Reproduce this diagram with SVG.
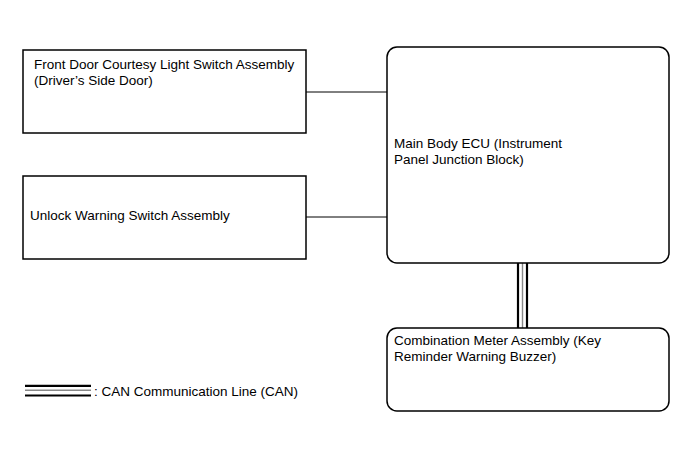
<svg xmlns="http://www.w3.org/2000/svg" width="691" height="467" viewBox="0 0 691 467">
<style>
.box{fill:#fff;stroke:#000;stroke-width:1.5}
.t{font-family:"Liberation Sans",Arial,sans-serif;font-size:13.5px;fill:#000}
.wire{stroke:#000;stroke-width:1;fill:none}
.canb{stroke:#000;stroke-width:2.2;fill:none}
.cang{stroke:#888;stroke-width:1.4;fill:none}
</style>
<rect width="691" height="467" fill="#fff"/>
<g id="connectors">
<line class="wire" x1="306" y1="92" x2="387" y2="92"/>
<line class="wire" x1="306" y1="217" x2="387" y2="217"/>
<line class="canb" x1="518" y1="263" x2="518" y2="328"/>
<line class="cang" x1="522.5" y1="263" x2="522.5" y2="328"/>
<line class="canb" x1="527" y1="263" x2="527" y2="328"/>
</g>
<g id="front-door-switch">
<rect class="box" x="23" y="50" width="283" height="83"/>
<text class="t" x="34" y="69">Front Door Courtesy Light Switch Assembly</text>
<text class="t" x="34" y="85">(Driver’s Side Door)</text>
</g>
<g id="unlock-warning-switch">
<rect class="box" x="23" y="176" width="283" height="83"/>
<text class="t" x="30" y="220">Unlock Warning Switch Assembly</text>
</g>
<g id="main-body-ecu">
<rect class="box" x="387" y="47" width="282" height="216" rx="10" ry="10"/>
<text class="t" x="394" y="148">Main Body ECU (Instrument</text>
<text class="t" x="394" y="164">Panel Junction Block)</text>
</g>
<g id="combination-meter">
<rect class="box" x="387" y="328" width="282" height="83" rx="10" ry="10"/>
<text class="t" x="394" y="345">Combination Meter Assembly (Key</text>
<text class="t" x="394" y="361">Reminder Warning Buzzer)</text>
</g>
<g id="legend">
<line class="canb" x1="25" y1="385.8" x2="91" y2="385.8"/>
<line class="cang" x1="25" y1="390.3" x2="91" y2="390.3"/>
<line class="canb" x1="25" y1="395.5" x2="91" y2="395.5"/>
<text class="t" x="94" y="396">: CAN Communication Line (CAN)</text>
</g>
</svg>
